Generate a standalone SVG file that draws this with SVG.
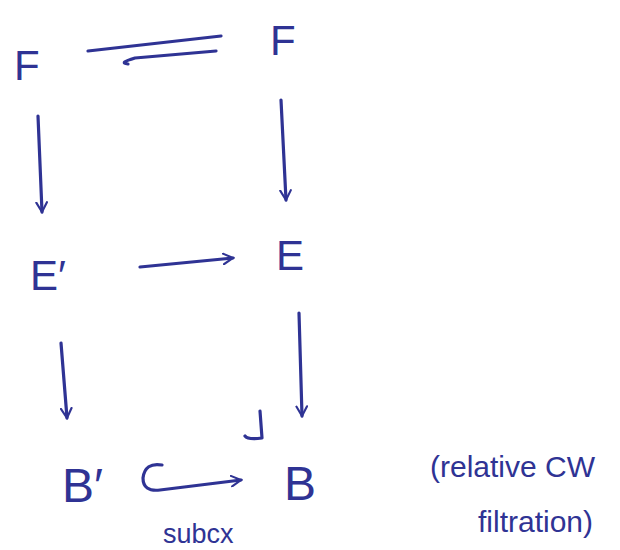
<svg xmlns="http://www.w3.org/2000/svg" width="620" height="550" viewBox="0 0 620 550">
<style>
.t{font-family:"Liberation Sans","DejaVu Sans",sans-serif;fill:#2f3394;}
.n{font-size:42px;}
.b{font-size:48px;}
.s{font-size:27px;}
.m{font-size:30px;}
.c{fill:none;stroke:#2f3394;stroke-width:3.2;stroke-linecap:round;stroke-linejoin:round;}
</style>
<defs>
<marker id="ah" viewBox="0 0 12 12" refX="10" refY="6" markerWidth="4" markerHeight="4" orient="auto" markerUnits="strokeWidth">
<path d="M1,1 L10,6 L1,11" fill="none" stroke="#2f3394" stroke-width="2" stroke-linecap="round"/>
</marker>
</defs>
<rect width="620" height="550" fill="#fff"/>
<g id="F_left"><text class="t n" x="14" y="80">F</text></g>
<g id="F_right"><text class="t n" x="270" y="55">F</text></g>
<g id="E_prime"><text class="t n" x="30" y="290">E′</text></g>
<g id="E"><text class="t n" x="276" y="270">E</text></g>
<g id="B_prime"><text class="t b" x="62" y="502">B′</text></g>
<g id="B"><text class="t b" x="284" y="500">B</text></g>
<g id="note"><text class="t m" x="430" y="477">(relative CW</text><text class="t m" x="478" y="532">filtration)</text></g>
<g id="connectors">
<path class="c" d="M88,51 L221,36"/>
<path class="c" d="M216,51 L135,58 Q118,63 128,64"/>
<path class="c" d="M38,116 L42,212" marker-end="url(#ah)"/>
<path class="c" d="M281,100 L286,200" marker-end="url(#ah)"/>
<path class="c" d="M140,267 L233,258" marker-end="url(#ah)"/>
<path class="c" d="M61,343 L67,418" marker-end="url(#ah)"/>
<path class="c" d="M299,313 L302,416" marker-end="url(#ah)"/>
<path class="c" d="M162,465 Q145,462 143,478 Q143,492 160,490 L241,480" marker-end="url(#ah)"/>
<path class="c" d="M260,411 L262,438 Q248,440 245,436"/>
<text class="t s" x="163" y="543">subcx</text>
</g>
</svg>
